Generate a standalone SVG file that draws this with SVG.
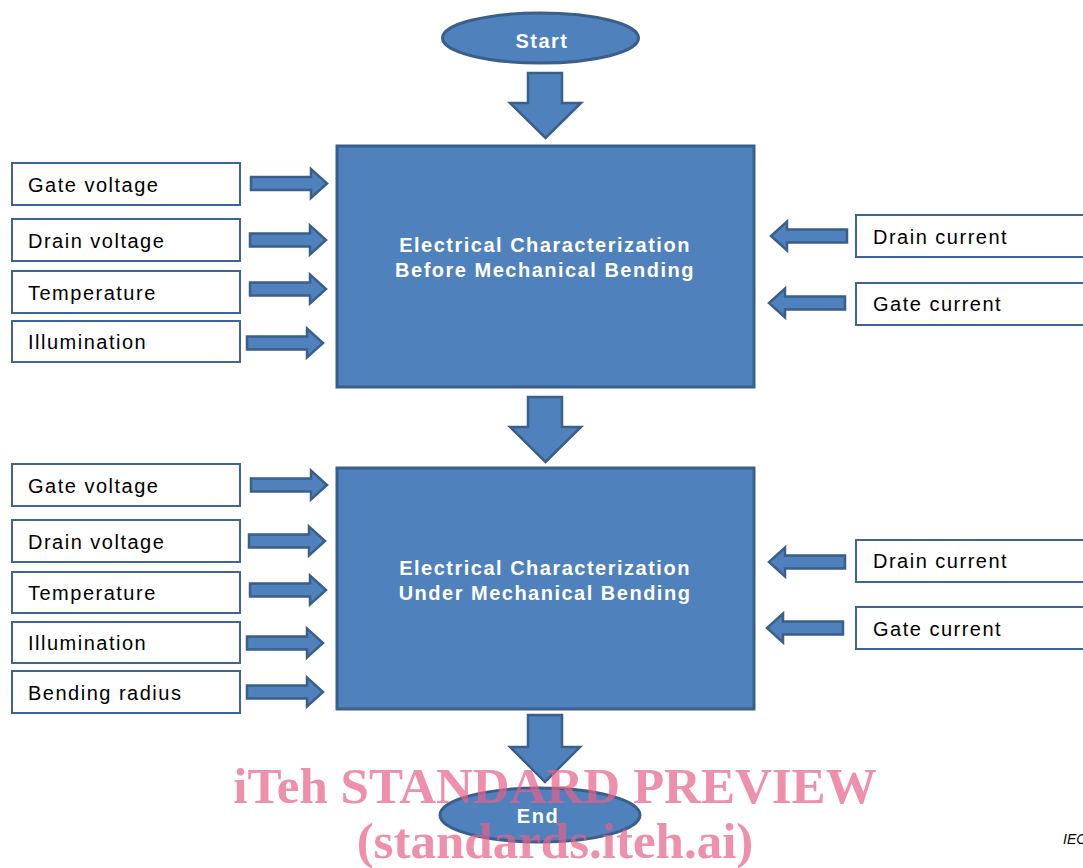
<svg xmlns="http://www.w3.org/2000/svg" width="1083" height="868" viewBox="0 0 1083 868">
<defs>
<style>
.bg{fill:#ffffff}
.lbl{fill:#ffffff;stroke:#3F6496;stroke-width:2}
.main{fill:#4F81BD;stroke:#3A5F8B;stroke-width:3}
.arr{fill:#4F81BD;stroke:#3A5F8B;stroke-width:2.5;stroke-linejoin:miter}
.t{font-family:"Liberation Sans",Arial,sans-serif;font-size:20px;letter-spacing:1.5px;fill:#000000}
.w{font-family:"Liberation Sans",Arial,sans-serif;font-size:20px;font-weight:bold;letter-spacing:1.5px;fill:#ffffff;text-anchor:middle}
.wm{font-family:"Liberation Serif","Times New Roman",serif;font-weight:bold;font-size:51px;fill:#E8608A;opacity:0.7;text-anchor:middle}
.iec{font-family:"Liberation Sans",Arial,sans-serif;font-style:italic;font-size:14px;fill:#000000}
</style>
<path id="ar" d="M-76,-6.5 H-16 V-14.5 L0,0 L-16,14.5 V6.5 H-76 Z"/>
<path id="al" d="M76,-6.5 H16 V-14.5 L0,0 L16,14.5 V6.5 H76 Z"/>
</defs>
<rect class="bg" x="0" y="0" width="1083" height="868"/>

<g id="start">
<ellipse class="main" cx="540.5" cy="38" rx="98" ry="25"/>
<text class="w" x="542" y="48">Start</text>
</g>

<g id="box1">
<rect class="main" x="337" y="146" width="417" height="241"/>
<text class="w" x="545" y="252">Electrical Characterization</text>
<text class="w" x="545" y="277">Before Mechanical Bending</text>
</g>

<g id="box2">
<rect class="main" x="337" y="468" width="417" height="241"/>
<text class="w" x="545" y="575">Electrical Characterization</text>
<text class="w" x="545" y="600">Under Mechanical Bending</text>
</g>

<g id="end">
<ellipse class="main" cx="540" cy="815" rx="100" ry="27"/>
<text class="w" x="538" y="823">End</text>
</g>

<g id="in1-gate"><rect class="lbl" x="12" y="163" width="228" height="42"/><text class="t" x="28" y="192">Gate voltage</text></g>
<g id="in1-drain"><rect class="lbl" x="12" y="219" width="228" height="42"/><text class="t" x="28" y="248">Drain voltage</text></g>
<g id="in1-temp"><rect class="lbl" x="12" y="271" width="228" height="42"/><text class="t" x="28" y="300">Temperature</text></g>
<g id="in1-illum"><rect class="lbl" x="12" y="321" width="228" height="41"/><text class="t" x="28" y="349">Illumination</text></g>

<g id="out1-drain"><rect class="lbl" x="856" y="215" width="240" height="42"/><text class="t" x="873" y="244">Drain current</text></g>
<g id="out1-gate"><rect class="lbl" x="856" y="283" width="240" height="42"/><text class="t" x="873" y="311">Gate current</text></g>

<g id="in2-gate"><rect class="lbl" x="12" y="464" width="228" height="42"/><text class="t" x="28" y="493">Gate voltage</text></g>
<g id="in2-drain"><rect class="lbl" x="12" y="520" width="228" height="42"/><text class="t" x="28" y="549">Drain voltage</text></g>
<g id="in2-temp"><rect class="lbl" x="12" y="572" width="228" height="41"/><text class="t" x="28" y="600">Temperature</text></g>
<g id="in2-illum"><rect class="lbl" x="12" y="622" width="228" height="41"/><text class="t" x="28" y="650">Illumination</text></g>
<g id="in2-bend"><rect class="lbl" x="12" y="671" width="228" height="42"/><text class="t" x="28" y="700">Bending radius</text></g>

<g id="out2-drain"><rect class="lbl" x="856" y="540" width="240" height="42"/><text class="t" x="873" y="568">Drain current</text></g>
<g id="out2-gate"><rect class="lbl" x="856" y="607" width="240" height="42"/><text class="t" x="873" y="636">Gate current</text></g>

<g id="connectors">
<path class="arr" d="M528,73 H562 V103 H581 L545.5,138 L510,103 H528 Z"/>
<path class="arr" d="M528,397 H562 V427 H581 L545.5,462 L510,427 H528 Z"/>
<path class="arr" d="M528,715 H562 V747 H580 L545,782 L510,747 H528 Z"/>
<use class="arr" href="#ar" transform="translate(327,183.5)"/>
<use class="arr" href="#ar" transform="translate(326,240)"/>
<use class="arr" href="#ar" transform="translate(326,289)"/>
<use class="arr" href="#ar" transform="translate(323,343)"/>
<use class="arr" href="#al" transform="translate(771,236)"/>
<use class="arr" href="#al" transform="translate(769,303)"/>
<use class="arr" href="#ar" transform="translate(327,485)"/>
<use class="arr" href="#ar" transform="translate(325,541)"/>
<use class="arr" href="#ar" transform="translate(326,590)"/>
<use class="arr" href="#ar" transform="translate(323,643)"/>
<use class="arr" href="#ar" transform="translate(323,692)"/>
<use class="arr" href="#al" transform="translate(769,562)"/>
<use class="arr" href="#al" transform="translate(767,628)"/>
</g>

<text class="iec" x="1063" y="844">IEC</text>
<g id="watermark">
<text class="wm" x="555" y="803">iTeh STANDARD PREVIEW</text>
<text class="wm" x="555" y="858">(standards.iteh.ai)</text>
</g>
</svg>
